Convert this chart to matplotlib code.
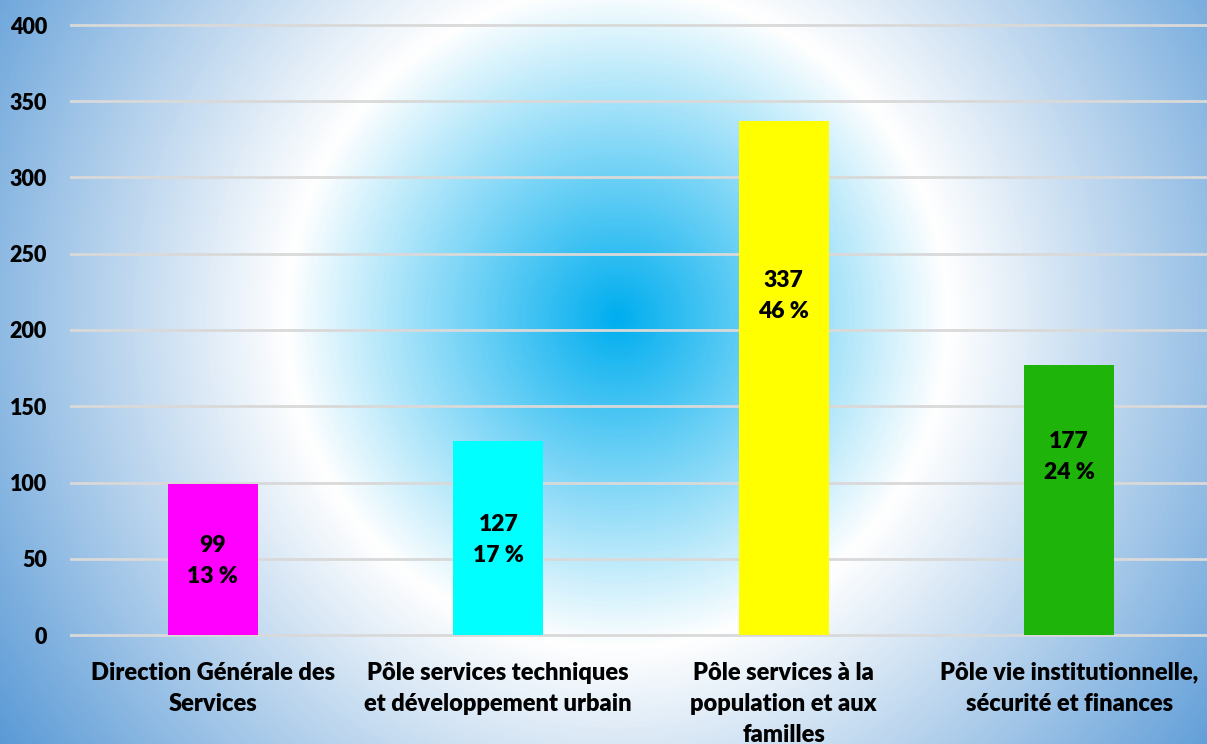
import numpy as np
import matplotlib
matplotlib.use("Agg")
from matplotlib import pyplot as plt
from matplotlib.colors import LinearSegmentedColormap

categories = ["Direction Générale des\nServices",
              "Pôle services techniques\net développement urbain",
              "Pôle services à la\npopulation et aux\nfamilles",
              "Pôle vie institutionnelle,\nsécurité et finances"]
values = [99, 127, 337, 177]
percents = [13, 17, 46, 24]
bar_colors = ["#FF00FF", "#00FFFF", "#FFFF00", "#1FB40A"]
label_frac = [0.49, 0.49, 0.66, 0.66]  # where the label sits inside each bar
yticks = [0, 50, 100, 150, 200, 250, 300, 350, 400]

plt.rcParams['font.family'] = ['Lato', 'DejaVu Sans']
WT = 'heavy'

W, H = 1207, 744
fig = plt.figure(figsize=(W / 100, H / 100), dpi=100)

# radial background: blue centre -> white ring -> soft blue edges
bg = fig.add_axes([0, 0, 1, 1], zorder=0)
yy, xx = np.mgrid[0:H, 0:W]
r = np.hypot(xx - 617, yy - 317) / 750.0
cmap = LinearSegmentedColormap.from_list(
    "bg", [(0, "#00AEEF"), (0.44, "#FFFFFF"), (1.0, "#5A9AD6")])
bg.imshow(r, cmap=cmap, vmin=0, vmax=1, aspect='auto', interpolation='bilinear')
bg.axis('off')

left = 70 / W
bottom = 1 - 635 / H
ppu = 610 / 400.0
ymin, ymax = -2, 404
ax = fig.add_axes([left, bottom - 2 * ppu / H, (1212 - 70) / W,
                   (ymax - ymin) * ppu / H], zorder=1)
ax.patch.set_alpha(0)
ax.set_ylim(ymin, ymax)
ax.set_xlim(-0.5, len(values) - 0.5)

x = np.arange(len(values))
ax.bar(x, values, width=0.315, color=bar_colors, zorder=3)

for i in range(len(values)):
    ax.text(x[i], values[i] * label_frac[i], f"{values[i]}\n{percents[i]} %",
            ha='center', va='center', fontsize=16.5, fontweight=WT,
            linespacing=1.6, zorder=4)

ax.set_yticks(yticks)
ax.set_yticklabels([str(t) for t in yticks], fontsize=15.5, fontweight=WT)
ax.yaxis.grid(True, color="#D9D9D9", linewidth=2)
ax.set_axisbelow(True)
ax.tick_params(axis='y', length=0, pad=16.5)
ax.tick_params(axis='x', length=0, pad=17)
ax.set_xticks(x)
ax.set_xticklabels(categories, fontsize=17, fontweight=WT, linespacing=1.5)
for s in ax.spines.values():
    s.set_visible(False)

fig.savefig("out.png", dpi=100)
